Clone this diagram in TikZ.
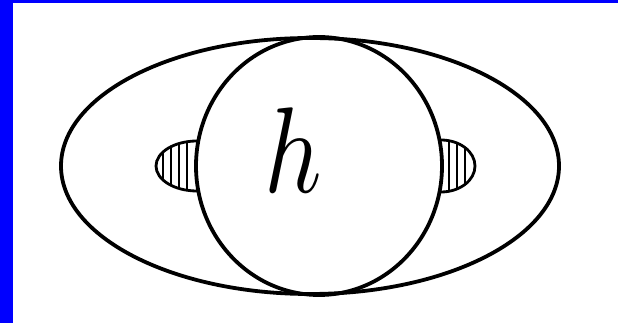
\documentclass[tikz,border=0pt]{standalone}
\usepackage{tikz}
\definecolor{frameblue}{RGB}{0,0,255}
\tikzset{
  outline/.style={draw=black,line width=3.8pt},
  hatchline/.style={draw=black,line width=1.8pt},
  halfdisk/.style={draw=black,line width=2.8pt}
}
\begin{document}
\begin{tikzpicture}[x=1pt,y=1pt]
\useasboundingbox (0,0) rectangle (618,323);
\fill[white] (0,0) rectangle (618,323);
\fill[frameblue] (0,0) rectangle (13,323);
\fill[frameblue] (0,320) rectangle (618,323);
% outer ellipse
\draw[outline] (310,157) ellipse [x radius=249, y radius=128];
% inner circle
\draw[outline] (319,157) ellipse [x radius=123, y radius=129];
% left hatched half disk
\begin{scope}
  \clip (197,182) arc[start angle=90,end angle=270,x radius=41,y radius=25] -- cycle;
  \foreach \x in {163,171,179,187} \draw[hatchline] (\x,130) -- (\x,185);
\end{scope}
\draw[halfdisk] (197,182) arc[start angle=90,end angle=270,x radius=41,y radius=25];
% right hatched half disk
\begin{scope}
  \clip (441,183) arc[start angle=90,end angle=-90,x radius=34,y radius=26] -- cycle;
  \foreach \x in {449,457,465} \draw[hatchline] (\x,130) -- (\x,185);
\end{scope}
\draw[halfdisk] (441,183) arc[start angle=90,end angle=-90,x radius=34,y radius=26];
% letter
\node[inner sep=0pt, xscale=10, yscale=12.2] (h) at (293,173) {$h$};
\end{tikzpicture}
\end{document}
